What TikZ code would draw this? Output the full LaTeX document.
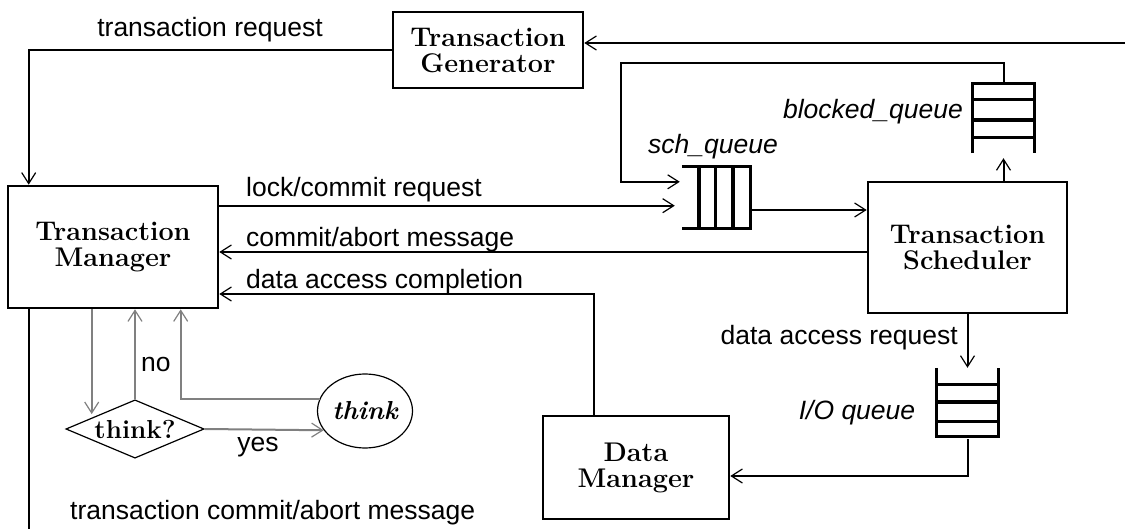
\documentclass[tikz,border=0pt]{standalone}
\usepackage{fontspec}
\setsansfont{Liberation Sans}
\usetikzlibrary{positioning, shapes.geometric, arrows.meta, calc}
\definecolor{LoopGray}{RGB}{128,128,128}

\tikzset{
  box/.style={draw, line width=2.6pt, inner sep=0pt, align=center,
    font=\fontsize{27}{26}\selectfont\bfseries},
  conn/.style={line width=2pt, -{Straight Barb[length=11pt,width=14pt,line width=1.2pt]}},
  loopconn/.style={conn, LoopGray},
  qline/.style={line width=3.3pt},
  lbl/.style={inner sep=0pt, font=\fontsize{26.5}{30}\selectfont\sffamily},
  qlbl/.style={lbl, font=\fontsize{26.5}{30}\selectfont\sffamily\itshape}
}

\begin{document}
\begin{tikzpicture}[x=1pt, y=-1pt]
    \useasboundingbox (0,0) rectangle (1125,529);

    % Boxes
    \node[box, minimum width=190pt, minimum height=76pt] (gen) at (488,50) {Transaction\\Generator};
    \node[box, minimum width=210pt, minimum height=122pt] (tm) at (113,247) {Transaction\\Manager};
    \node[box, minimum width=199pt, minimum height=131pt] (ts) at (967.5,247.5) {Transaction\\Scheduler};
    \node[box, minimum width=186pt, minimum height=103pt] (dm) at (636,467.5) {Data\\Manager};

    % Queues
    \node[inner sep=0pt, minimum width=68pt, minimum height=61pt] (schq) at (716,197.5) {};
    \node[inner sep=0pt, minimum width=61pt, minimum height=69pt] (blkq) at (1003.5,118.5) {};
    \node[inner sep=0pt, minimum width=61pt, minimum height=68pt] (ioq) at (967.5,402) {};

    \draw[qline] (schq.north west) -- (schq.north east) -- (schq.south east) -- (schq.south west);
    \foreach \f in {0.25,0.49,0.75} {
      \draw[qline] ($(schq.north west)!\f!(schq.north east)$) -- ($(schq.south west)!\f!(schq.south east)$);
    }
    \draw[qline] (blkq.south west) -- (blkq.north west) -- (blkq.north east) -- (blkq.south east);
    \foreach \f in {0.23,0.52,0.77} {
      \draw[qline] ($(blkq.north west)!\f!(blkq.south west)$) -- ($(blkq.north east)!\f!(blkq.south east)$);
    }
    \draw[qline] (ioq.north west) -- (ioq.south west) -- (ioq.south east) -- (ioq.north east);
    \foreach \f in {0.24,0.5,0.79} {
      \draw[qline] ($(ioq.north west)!\f!(ioq.south west)$) -- ($(ioq.north east)!\f!(ioq.south east)$);
    }

    % Think loop
    \node[draw, diamond, aspect=2.37, inner sep=2pt, line width=1.2pt,
      font=\fontsize{26}{26}\selectfont\bfseries] (ask) at (135,429) {think?};
    \node[draw, ellipse, inner sep=0pt, minimum width=95pt, minimum height=74pt, line width=1.2pt,
      font=\fontsize{26}{26}\selectfont\bfseries\itshape] (think) at (365,411) {think};

    % Connectors
    \coordinate (feed) at (1125,43);
    \draw[conn] (feed) -- (feed -| gen.east);
    \draw[conn] (gen.west) -| ([xshift=22pt]tm.north west);

    \coordinate (lockout) at ([yshift=-21pt]tm.north east);
    \draw[conn, shorten >=7pt] (lockout) -- (lockout -| schq.west);
    \coordinate (schin) at ([yshift=-15pt]schq.north west);
    \draw[conn, shorten >=2pt] (blkq.north) -- ++(0,-21) -| ($(schin)+(-61,0)$) -- (schin);
    \coordinate (schout) at ([yshift=-12.5pt]schq.east);
    \draw[conn] (schout) -- (schout -| ts.west);
    \draw[conn, shorten >=5pt] (blkq.south |- ts.north) -- (blkq.south);

    \coordinate (abortin) at ([yshift=-5pt]tm.east);
    \draw[conn] (abortin -| ts.west) -- (abortin);
    \draw[conn] ([xshift=-42pt]dm.north) |- ([yshift=-47pt]tm.east);

    \draw[conn] (ts.south -| ioq.north) -- (ioq.north);
    \draw[conn] ([yshift=-3pt]ioq.south) |- ([yshift=-8.5pt]dm.east);

    \coordinate (sysout) at (29,529);
    \draw[line width=2pt] (sysout |- tm.south) -- (sysout);

    \coordinate (thinkdown) at ([xshift=85pt]tm.south west);
    \draw[loopconn] (thinkdown) -- (thinkdown |- ask.north west);
    \draw[loopconn] (ask.north) -- (ask.north |- tm.south);
    \draw[loopconn] (ask.east) -- (think.205);
    \draw[loopconn] (think.165) -| ([xshift=174pt]tm.south west);

    % Labels
    \node[lbl] (trlbl) at (210,30) {transaction request};
    \node[lbl, anchor=west] (locklbl) at (246,190) {lock/commit request};
    \node[lbl, anchor=west] (abortlbl) at (246,240) {commit/abort message};
    \node[lbl, anchor=west] (daclbl) at (246,282) {data access completion};
    \node[lbl, anchor=east] (darlbl) at (958,338) {data access request};
    \node[qlbl] (ioqlbl) at (857,413) {I/O queue};
    \node[qlbl, anchor=east] (blkqlbl) at (963,112) {blocked\_queue};
    \node[qlbl] (schqlbl) at (713,147) {sch\_queue};
    \node[lbl, anchor=west] (nolbl) at (141,365) {no};
    \node[lbl] (yeslbl) at (258,447) {yes};
    \node[lbl, anchor=west] (outlbl) at (70,513) {transaction commit/abort message};
  \end{tikzpicture}
\end{document}
